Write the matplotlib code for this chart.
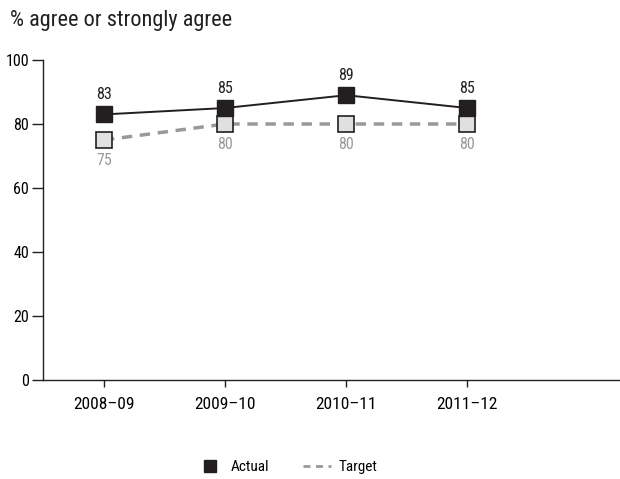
import matplotlib.pyplot as plt
from matplotlib.lines import Line2D

plt.rcParams['font.family'] = ['Roboto Condensed', 'DejaVu Sans']

years = ['2008\u201309', '2009\u201310', '2010\u201311', '2011\u201312']
actual = [83, 85, 89, 85]
target = [75, 80, 80, 80]

fig = plt.figure(figsize=(6.2, 4.79), dpi=100)
ax = fig.add_axes([0.069, 0.2067, 0.931, 0.668])

x = list(range(len(years)))
ax.plot(x, target, color='#999999', lw=2.5, ls=(0, (3, 2.2)), marker='s', ms=12,
        mfc='#e0e0e0', mec='#231f20', mew=1.2, zorder=2)
ax.plot(x, actual, color='#231f20', lw=1.4, marker='s', ms=12,
        mfc='#231f20', mec='#231f20', zorder=3)

for i in x:
    ax.annotate(str(actual[i]), (i, actual[i]), xytext=(0, 9), textcoords='offset points',
                ha='center', va='bottom', fontsize=11.5, color='#231f20')
    ax.annotate(str(target[i]), (i, target[i]), xytext=(0, -9), textcoords='offset points',
                ha='center', va='top', fontsize=11.5, color='#999999')

ax.set_xlim(-0.505, 4.26)
ax.set_ylim(0, 100)
ax.set_yticks([0, 20, 40, 60, 80, 100])
ax.set_xticks(x)
ax.set_xticklabels(years)
ax.spines['top'].set_visible(False)
ax.spines['right'].set_visible(False)
for s in ['left', 'bottom']:
    ax.spines[s].set_color('#231f20')
    ax.spines[s].set_linewidth(1.0)
ax.tick_params(axis='y', length=8, width=1, color='#231f20', labelsize=11.5, pad=2)
ax.tick_params(axis='x', length=5, width=1, color='#231f20', labelsize=12.5, pad=7)

fig.text(0.016, 0.957, '% agree or strongly agree', fontsize=16, color='#231f20',
         ha='left', va='center')

handles = [Line2D([], [], ls='none', marker='s', ms=8, mfc='#231f20', mec='#231f20'),
           Line2D([], [], color='#999999', lw=2, ls=(0, (2.5, 2)))]
fig.legend(handles, ['Actual', 'Target'], loc='center', bbox_to_anchor=(0.462, 0.025),
           ncol=2, frameon=False, fontsize=11, handlelength=1.8, columnspacing=2.2,
           handletextpad=0.5)

fig.savefig('out.png', dpi=100)
